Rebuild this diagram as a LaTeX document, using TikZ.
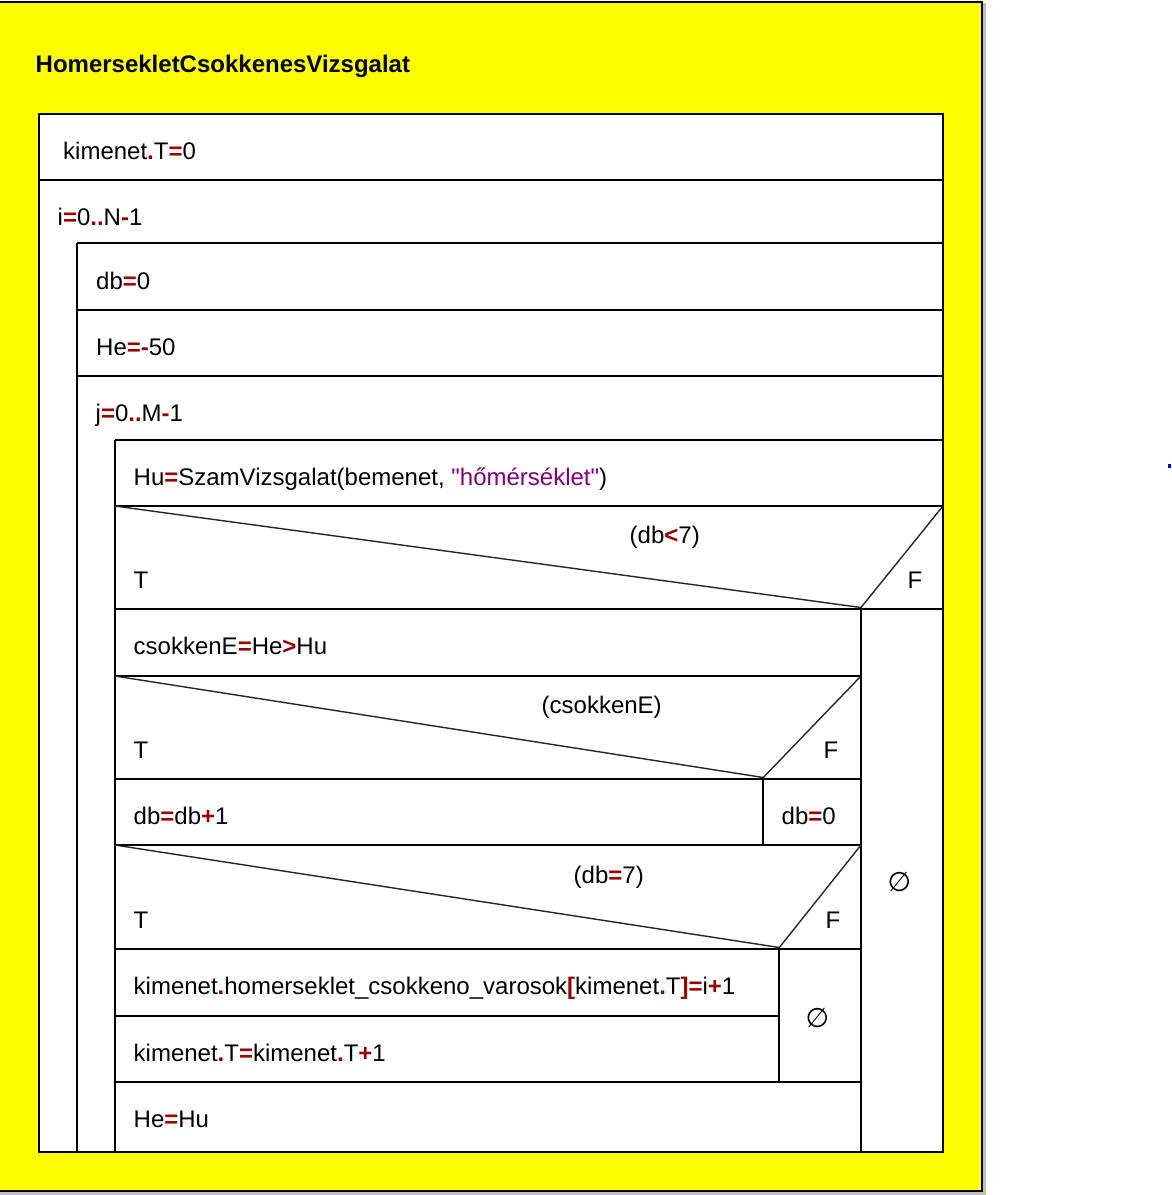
\documentclass[tikz,border=0pt]{standalone}
\usepackage{fontspec}
\setmainfont{Liberation Sans}[Ligatures=TeXOff]
\newfontfamily\symfont{DejaVu Sans}
\definecolor{opred}{RGB}{153,0,0}
\definecolor{strpurple}{RGB}{128,0,128}
\definecolor{nsyellow}{RGB}{255,255,0}
\definecolor{shadowgray}{RGB}{192,192,192}
\definecolor{dotblue}{RGB}{0,0,255}
\newcommand\op[1]{\textcolor{opred}{\textbf{#1}}}
\newcommand\strlit[1]{\textcolor{strpurple}{#1}}
\begin{document}
\begin{tikzpicture}[x=1pt,y=-1pt,
  frame/.style={draw=black,line width=2pt},
  rule/.style={draw=black,line width=2pt},
  diag/.style={draw=black!85,line width=1.4pt,line join=miter},
  txt/.style={anchor=base west,inner sep=0pt,font=\fontsize{24}{28}\selectfont},
  ttl/.style={anchor=base west,inner sep=0pt,font=\fontsize{24}{28}\selectfont\bfseries},
  emptymark/.style={anchor=center,inner sep=0pt,font=\symfont\fontsize{27}{30}\selectfont}]
\useasboundingbox (0,0) rectangle (1171,1195);
\fill[white] (0,0) rectangle (1171,1195);
% shadow and yellow panel
\fill[shadowgray] (0,3) rectangle (986,1195);
\filldraw[fill=nsyellow,frame] (-3,1.5) rectangle (982,1191);
\fill[dotblue] (1168,464) rectangle (1171,468);
% title
\node[ttl] (title) at (35.5,72) {HomersekletCsokkenesVizsgalat};
% outer program box
\filldraw[fill=white,frame] (39.3,114.3) rectangle (943,1151.7);
\draw[rule] (39.3,180) -- (943,180);
% loop i body
\draw[rule] (76.7,243.3) -- (943,243.3);
\draw[rule] (76.7,243.3) -- (76.7,1151.7);
\draw[rule] (76.7,310) -- (943,310);
\draw[rule] (76.7,375.7) -- (943,375.7);
% loop j body
\draw[rule] (114.7,440) -- (943,440);
\draw[rule] (114.7,440) -- (114.7,1151.7);
\draw[rule] (114.7,506) -- (943,506);
% if (db<7)
\draw[diag] (114.7,506) -- (861,607.5) -- (943,506);
\draw[rule] (114.7,609.3) -- (943,609.3);
\draw[rule] (861,609.3) -- (861,1151.7);
% csokkenE row
\draw[rule] (114.7,676) -- (861,676);
% if (csokkenE)
\draw[diag] (114.7,676) -- (763.3,777.5) -- (861,676);
\draw[rule] (114.7,779.3) -- (861,779.3);
\draw[rule] (763.3,779.3) -- (763.3,845);
\draw[rule] (114.7,845) -- (861,845);
% if (db=7)
\draw[diag] (114.7,845) -- (779.3,947.5) -- (861,845);
\draw[rule] (114.7,949.3) -- (861,949.3);
\draw[rule] (779.3,949.3) -- (779.3,1082);
\draw[rule] (114.7,1016) -- (779.3,1016);
\draw[rule] (114.7,1082) -- (861,1082);
% texts
\node[txt] (s1) at (63,159.3) {kimenet\op{.}T\op{=}0};
\node[txt] (loopi) at (57.5,225.5) {i\op{=}0\op{..}N\op{-}1};
\node[txt] (s2) at (96,289.5) {db\op{=}0};
\node[txt] (s3) at (96,355) {He\op{=-}50};
\node[txt] (loopj) at (95.5,421) {j\op{=}0\op{..}M\op{-}1};
\node[txt] (s4) at (133.5,485.5) {Hu\op{=}SzamVizsgalat(bemenet, \strlit{"hőmérséklet"})};
\node[txt] (c1) at (629.5,543) {(db\op{<}7)};
\node[txt] (t1) at (133.5,588.5) {T};
\node[txt] (f1) at (907.5,588.5) {F};
\node[txt] (s5) at (133.5,654.5) {csokkenE\op{=}He\op{>}Hu};
\node[txt] (c2) at (541.5,713) {(csokkenE)};
\node[txt] (t2) at (133.5,758.5) {T};
\node[txt] (f2) at (823.5,758.5) {F};
\node[txt] (s6) at (133.5,824.3) {db\op{=}db\op{+}1};
\node[txt] (s7) at (781.5,824.3) {db\op{=}0};
\node[txt] (c3) at (573.5,883) {(db\op{=}7)};
\node[txt] (t3) at (133.5,928) {T};
\node[txt] (f3) at (825.5,928) {F};
\node[txt] (s8) at (133.5,994.3) {kimenet\op{.}homerseklet\_csokkeno\_varosok\op{[}kimenet\op{.}T\op{]=}i\op{+}1};
\node[txt] (s9) at (133.5,1061) {kimenet\op{.}T\op{=}kimenet\op{.}T\op{+}1};
\node[txt] (s10) at (133.5,1127) {He\op{=}Hu};
\node[emptymark] (e1) at (899.5,881.7) {∅};
\node[emptymark] (e2) at (817.5,1018.3) {∅};
\end{tikzpicture}
\end{document}
